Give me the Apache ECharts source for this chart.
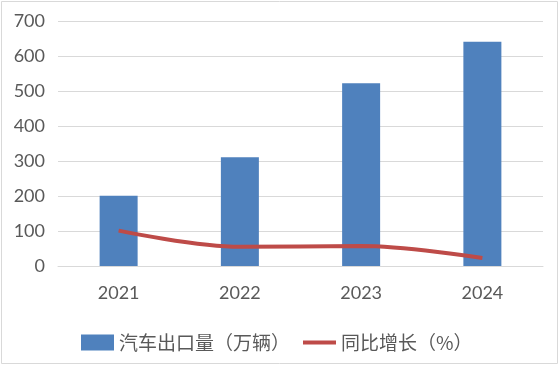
<!DOCTYPE html>
<html>
<head>
<meta charset="utf-8">
<script src="https://cdn.jsdelivr.net/npm/echarts@6/dist/echarts.min.js"></script>
<style>
html,body{margin:0;padding:0;background:#fff;}
#c{width:560px;height:366px;}
</style>
</head>
<body>
<div id="c"></div>
<script>
const categories = ['2021', '2022', '2023', '2024'];
const exportVolume = [201, 311, 522, 641];
const yoyGrowth = [101, 55, 57, 23];
const yTicks = [0, 100, 200, 300, 400, 500, 600, 700];

const chart = echarts.init(document.getElementById('c'), null, {renderer: 'canvas'});
const labelFont = 'Lato, "Noto Sans CJK SC", sans-serif';
chart.setOption({
  animation: false,
  backgroundColor: '#ffffff',
  graphic: [{
    type: 'rect',
    shape: {x: 1.5, y: 1.5, width: 556, height: 362},
    style: {fill: 'none', stroke: '#D9D9D9', lineWidth: 1}
  }],
  grid: {left: 58, right: 17, top: 21, bottom: 100},
  legend: {
    left: 76, top: 328,
    itemGap: 13,
    itemWidth: 33, itemHeight: 16,
    textStyle: {color: '#595959', fontSize: 19, fontFamily: '"Noto Sans CJK SC", sans-serif'},
    data: [
      {name: '汽车出口量（万辆）', icon: 'rect'},
      {name: '同比增长（%）', icon: 'path://M0,0 L100,0 L100,12 L0,12 Z'}
    ]
  },
  xAxis: {
    type: 'category',
    data: categories,
    axisTick: {show: false},
    axisLine: {lineStyle: {color: '#D9D9D9', width: 1}},
    axisLabel: {color: '#595959', fontSize: 18, fontFamily: labelFont, margin: 18}
  },
  yAxis: {
    type: 'value',
    min: yTicks[0], max: yTicks[yTicks.length - 1], interval: 100,
    axisLine: {show: false},
    axisTick: {show: false},
    splitLine: {lineStyle: {color: '#D9D9D9', width: 1}},
    axisLabel: {color: '#595959', fontSize: 18, fontFamily: labelFont, margin: 13}
  },
  series: [
    {
      name: '汽车出口量（万辆）',
      type: 'bar',
      data: exportVolume,
      barWidth: 38,
      itemStyle: {color: '#4F81BD'}
    },
    {
      name: '同比增长（%）',
      type: 'line',
      data: yoyGrowth,
      smooth: 0.35,
      showSymbol: false,
      symbol: 'none',
      lineStyle: {color: '#BE4B48', width: 4},
      itemStyle: {color: '#BE4B48'}
    }
  ]
});
</script>
</body>
</html>
